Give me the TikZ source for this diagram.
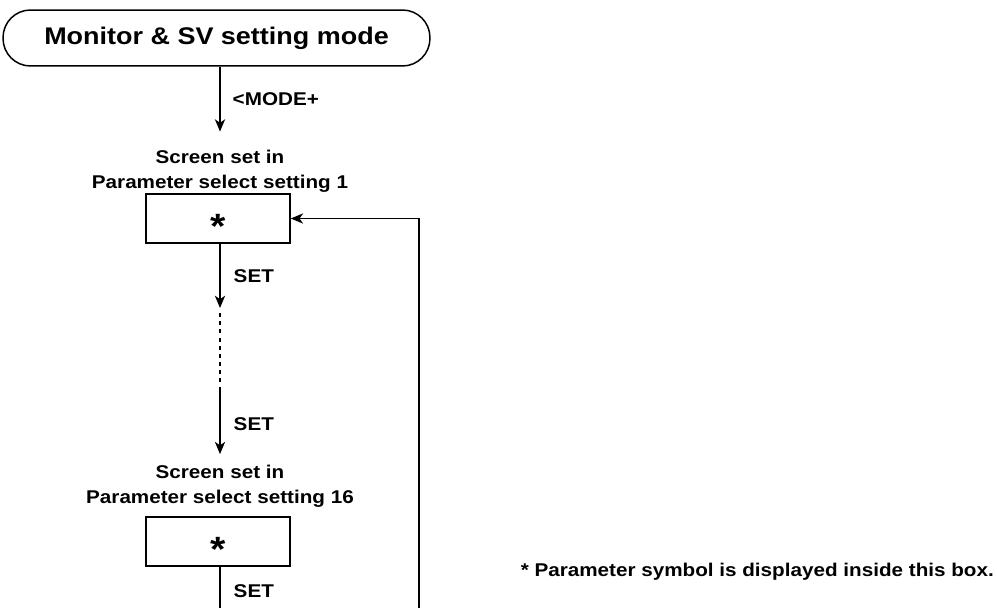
\documentclass[tikz,border=0pt]{standalone}
\usepackage{fontspec}
\setmainfont[FakeStretch=1.12]{Liberation Sans}
\usetikzlibrary{positioning, arrows.meta}

\begin{document}
\begin{tikzpicture}[x=0.02cm, y=-0.02cm, line width=0.85pt,
    >={Stealth[length=7pt, width=5.8pt, inset=2pt]},
    modebox/.style={draw, rounded corners=0.55cm, minimum width=8.54cm, minimum height=1.12cm,
        font=\fontsize{13.7}{16}\selectfont\bfseries},
    screenbox/.style={draw, minimum width=2.88cm, minimum height=0.98cm, inner sep=0pt,
        font=\fontsize{20}{20}\selectfont\bfseries},
    stepname/.style={align=center, inner xsep=0pt, inner ysep=10pt,
        font=\fontsize{10.5}{14.2}\selectfont\bfseries},
    keylabel/.style={anchor=west, inner sep=0pt, font=\fontsize{10.5}{12}\selectfont\bfseries}]
    \useasboundingbox (0,0) rectangle (997,608);

    \node [modebox] (mode) at (216.5, 38) {Monitor \& SV setting mode};

    \node [stepname] (name1) at (220, 171) {Screen set in\\Parameter select setting 1};
    \node [screenbox] (box1) at (218, 218.5) {\smash{\raisebox{-0.58em}{*}}};

    \node [stepname, inner ysep=5.7pt] (name2) at (220, 486) {Screen set in\\Parameter select setting 16};
    \node [screenbox] (box2) at (218, 541.5) {\smash{\raisebox{-0.58em}{*}}};

    \coordinate (dotA) at (220, 308);
    \coordinate (dotB) at (220, 387);
    \coordinate (exit) at (220, 608);
    \coordinate (loop) at (419, 608);

    \draw [->] (mode.south -| name1) -- (name1.north)
        node [keylabel, pos=0.5, xshift=0.24cm] (modekey) {<MODE+};
    \draw [->] (box1.south -| dotA) -- (dotA)
        node [keylabel, pos=0.5, xshift=0.26cm] (set1) {SET};
    \draw [dash pattern=on 2.3pt off 2.3pt, shorten <=3pt, shorten >=3pt] (dotA) -- (dotB);
    \draw [->] (dotB) -- (name2.north)
        node [keylabel, pos=0.55, xshift=0.26cm] (set2) {SET};
    \draw (box2.south -| exit) -- (exit)
        node [keylabel, pos=0.6, xshift=0.26cm] (set3) {SET};
    \draw [->] (loop) |- (box1.east);

    \node [keylabel] (note) at (520, 572) {* Parameter symbol is displayed inside this box.};
\end{tikzpicture}
\end{document}
